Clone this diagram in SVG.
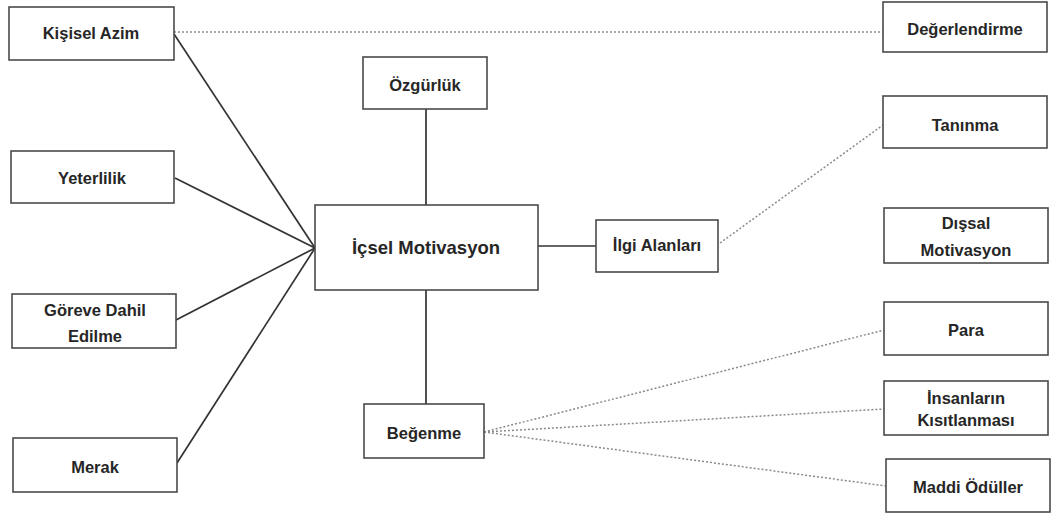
<svg xmlns="http://www.w3.org/2000/svg" width="1052" height="515" viewBox="0 0 1052 515">
  <style>
    .box { fill: #ffffff; stroke: #4a4a4a; stroke-width: 1.6; }
    .lbl { font-family: "Liberation Sans", Arial, sans-serif; font-size: 16.5px; font-weight: bold; fill: #262626; text-anchor: middle; }
    .big { font-size: 18.5px; }
    .solid { stroke: #333333; stroke-width: 1.7; fill: none; }
    .dot { stroke: #8a8a8a; stroke-width: 1.5; stroke-dasharray: 2 2; fill: none; }
  </style>
  <rect width="1052" height="515" fill="#ffffff"/>

  <!-- connectors -->
  <g id="connectors">
    <line class="solid" x1="174" y1="34" x2="315" y2="248"/>
    <line class="solid" x1="175" y1="178" x2="315" y2="248"/>
    <line class="solid" x1="176" y1="320" x2="315" y2="248"/>
    <line class="solid" x1="177" y1="463" x2="315" y2="248"/>
    <line class="solid" x1="426" y1="109" x2="426" y2="205"/>
    <line class="solid" x1="426" y1="290" x2="426" y2="404"/>
    <line class="solid" x1="538" y1="246" x2="596" y2="246"/>
    <line class="dot" x1="174" y1="32" x2="883" y2="32"/>
    <line class="dot" x1="720" y1="243" x2="883" y2="125"/>
    <line class="dot" x1="484" y1="432" x2="884" y2="330"/>
    <line class="dot" x1="484" y1="432" x2="884" y2="409"/>
    <line class="dot" x1="484" y1="432" x2="886" y2="486"/>
  </g>

  <!-- left column -->
  <g id="kisisel-azim">
    <rect class="box" x="9" y="7" width="165" height="53"/>
    <text class="lbl" x="91" y="39">Kişisel Azim</text>
  </g>
  <g id="yeterlilik">
    <rect class="box" x="11" y="151" width="163" height="52"/>
    <text class="lbl" x="92" y="184">Yeterlilik</text>
  </g>
  <g id="goreve-dahil">
    <rect class="box" x="12" y="294" width="164" height="54"/>
    <text class="lbl" x="95" y="316">Göreve Dahil</text>
    <text class="lbl" x="95" y="342">Edilme</text>
  </g>
  <g id="merak">
    <rect class="box" x="13" y="438" width="164" height="54"/>
    <text class="lbl" x="95" y="473">Merak</text>
  </g>

  <!-- centre -->
  <g id="ozgurluk">
    <rect class="box" x="363" y="57" width="124" height="52"/>
    <text class="lbl" x="425" y="91">Özgürlük</text>
  </g>
  <g id="icsel-motivasyon">
    <rect class="box" x="315" y="205" width="223" height="85"/>
    <text class="lbl big" x="426" y="254">İçsel Motivasyon</text>
  </g>
  <g id="ilgi-alanlari">
    <rect class="box" x="596" y="220" width="122" height="52"/>
    <text class="lbl" x="657" y="251">İlgi Alanları</text>
  </g>
  <g id="begenme">
    <rect class="box" x="364" y="404" width="120" height="54"/>
    <text class="lbl" x="424" y="439">Beğenme</text>
  </g>

  <!-- right column -->
  <g id="degerlendirme">
    <rect class="box" x="883" y="2" width="164" height="50"/>
    <text class="lbl" x="965" y="35">Değerlendirme</text>
  </g>
  <g id="taninma">
    <rect class="box" x="883" y="96" width="164" height="52"/>
    <text class="lbl" x="965" y="131">Tanınma</text>
  </g>
  <g id="dissal-motivasyon">
    <rect class="box" x="884" y="208" width="164" height="55"/>
    <text class="lbl" x="966" y="229">Dışsal</text>
    <text class="lbl" x="966" y="256">Motivasyon</text>
  </g>
  <g id="para">
    <rect class="box" x="884" y="302" width="164" height="53"/>
    <text class="lbl" x="966" y="336">Para</text>
  </g>
  <g id="insanlarin-kisitlanmasi">
    <rect class="box" x="884" y="381" width="164" height="54"/>
    <text class="lbl" x="966" y="404">İnsanların</text>
    <text class="lbl" x="966" y="426">Kısıtlanması</text>
  </g>
  <g id="maddi-oduller">
    <rect class="box" x="886" y="459" width="164" height="53"/>
    <text class="lbl" x="968" y="493">Maddi Ödüller</text>
  </g>
</svg>
